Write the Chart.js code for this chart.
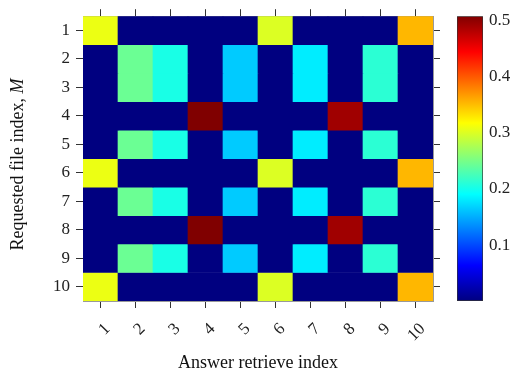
<!DOCTYPE html>
<html>
<head>
<meta charset="utf-8">
<script src="https://cdn.jsdelivr.net/npm/chart.js@4/dist/chart.umd.min.js"></script>
<style>
  html, body { margin: 0; padding: 0; background: #fff; }
  #wrap { position: relative; width: 514px; height: 370px; }
  #heat { position: absolute; left: 0; top: 0; }
  #bar { position: absolute; left: 450px; top: 0; }
</style>
</head>
<body>
<div id="wrap">
  <canvas id="heat" width="450" height="370"></canvas>
  <canvas id="bar" width="64" height="370"></canvas>
</div>
<script>
// ==============================
// DATA
// ==============================
const answerIdx = ["1", "2", "3", "4", "5", "6", "7", "8", "9", "10"];
const fileIdx = [1, 2, 3, 4, 5, 6, 7, 8, 9, 10];

// rows 1, 6, 10
const rowA = [0.308, 0.001, 0.001, 0.001, 0.001, 0.300, 0.001, 0.001, 0.001, 0.353];
// rows 2, 3, 5, 7, 9
const rowB = [0.001, 0.244, 0.203, 0.001, 0.165, 0.001, 0.182, 0.001, 0.212, 0.001];
// rows 4, 8
const rowC = [0.001, 0.001, 0.001, 0.507, 0.001, 0.001, 0.001, 0.491, 0.001, 0.001];

const matrix = [rowA, rowB, rowB, rowC, rowB, rowA, rowB, rowC, rowB, rowA];

const cbarTicks = [0.1, 0.2, 0.3, 0.4, 0.5];

// ==============================
// JET COLORMAP
// ==============================
const jetStops = [
  [0, [0, 0, 0.5]],
  [0.125, [0, 0, 1]],
  [0.375, [0, 1, 1]],
  [0.625, [1, 1, 0]],
  [0.875, [1, 0, 0]],
  [1, [0.5, 0, 0]]
];

function jet(t) {
  t = Math.max(0, Math.min(1, t));
  for (let i = 1; i < jetStops.length; i++) {
    const [t1, c1] = jetStops[i];
    const [t0, c0] = jetStops[i - 1];
    if (t <= t1) {
      const f = (t - t0) / (t1 - t0);
      const c = c0.map((v, k) => Math.round(255 * (v + (c1[k] - v) * f)));
      return `rgb(${c[0]},${c[1]},${c[2]})`;
    }
  }
  return "rgb(128,0,0)";
}

const all = matrix.flat();
const cmin = Math.min(...all);
const cmax = Math.max(...all);
const colorOf = v => jet((v - cmin) / (cmax - cmin));

// ==============================
// SHARED STYLE
// ==============================
const serif = "'Liberation Serif', 'Times New Roman', serif";
const tickFont = { family: serif, size: 17 };
const titleFont = { family: serif, size: 18, lineHeight: 1 };
const frame = { display: true, color: "#999", width: 1 };
const tickGrid = { drawOnChartArea: false, offset: false, tickLength: 7, tickColor: "#333" };
const rowTicks = s => { s.ticks = fileIdx.map(v => ({ value: v })); };

// y title with an italic M (Chart.js titles take one font only)
const yTitlePlugin = {
  id: "yTitle",
  afterDraw(chart) {
    const { ctx, chartArea } = chart;
    const head = "Requested file index, ";
    const tail = "M";
    const cy = (chartArea.top + chartArea.bottom) / 2 + 6;
    ctx.save();
    ctx.translate(18, cy);
    ctx.rotate(-Math.PI / 2);
    ctx.fillStyle = "#111";
    ctx.textBaseline = "middle";
    ctx.font = `18px ${serif}`;
    const w1 = ctx.measureText(head).width;
    ctx.font = `italic 18px ${serif}`;
    const w2 = ctx.measureText(tail).width;
    const x0 = -(w1 + w2) / 2;
    ctx.font = `18px ${serif}`;
    ctx.fillText(head, x0, 0);
    ctx.font = `italic 18px ${serif}`;
    ctx.fillText(tail, x0 + w1, 0);
    ctx.restore();
  }
};

// ==============================
// HEATMAP
// ==============================
const datasets = fileIdx.map((r, i) => ({
  label: "M = " + r,
  data: answerIdx.map(() => [r - 0.5, r + 0.5]),
  backgroundColor: matrix[i].map(colorOf),
  borderWidth: 0,
  grouped: false,
  barPercentage: 1,
  categoryPercentage: 1
}));

new Chart(document.getElementById("heat"), {
  type: "bar",
  data: { labels: answerIdx, datasets: datasets },
  plugins: [yTitlePlugin],
  options: {
    responsive: false,
    animation: false,
    layout: { padding: 0 },
    plugins: { legend: { display: false }, tooltip: { enabled: false } },
    scales: {
      x: {
        position: "bottom",
        offset: true,
        grid: tickGrid,
        border: frame,
        ticks: { font: tickFont, color: "#222", minRotation: 45, maxRotation: 45, padding: 11, labelOffset: 7 },
        title: { display: true, text: "Answer retrieve index", font: titleFont, color: "#111", padding: { top: 0, bottom: -2 } },
        afterFit: s => { s.height = 69; }
      },
      x2: {
        type: "category",
        position: "top",
        offset: true,
        grid: tickGrid,
        border: frame,
        ticks: { display: false },
        afterFit: s => { s.height = 11; }
      },
      y: {
        type: "linear",
        position: "left",
        min: 0.5,
        max: 10.5,
        reverse: true,
        grid: tickGrid,
        border: frame,
        afterBuildTicks: rowTicks,
        ticks: { font: tickFont, color: "#222", padding: 6 },
        afterFit: s => { s.width = 83; }
      },
      y2: {
        type: "linear",
        position: "right",
        min: 0.5,
        max: 10.5,
        reverse: true,
        grid: tickGrid,
        border: frame,
        afterBuildTicks: rowTicks,
        ticks: { display: false },
        afterFit: s => { s.width = 17; }
      }
    }
  }
});

// ==============================
// COLORBAR
// ==============================
function jetGradient(ctx) {
  const area = ctx.chart.chartArea;
  if (!area) return jet(0);
  const g = ctx.chart.ctx.createLinearGradient(0, area.bottom, 0, area.top);
  jetStops.forEach(([t, c]) => {
    g.addColorStop(t, `rgb(${c.map(v => Math.round(v * 255)).join(",")})`);
  });
  return g;
}

new Chart(document.getElementById("bar"), {
  type: "bar",
  data: {
    labels: ["scale"],
    datasets: [{
      data: [[cmin, cmax]],
      backgroundColor: jetGradient,
      borderColor: "#333",
      borderWidth: 1,
      borderSkipped: false,
      barPercentage: 1,
      categoryPercentage: 1
    }]
  },
  options: {
    responsive: false,
    animation: false,
    layout: { padding: { left: 7, top: 11, bottom: 69, right: 0 } },
    plugins: { legend: { display: false }, tooltip: { enabled: false } },
    scales: {
      x: { display: false },
      y: {
        position: "right",
        min: cmin,
        max: cmax,
        z: 1,
        afterBuildTicks: s => { s.ticks = cbarTicks.map(v => ({ value: v })); },
        grid: { drawOnChartArea: true, drawTicks: false, color: "#8a8a8a", lineWidth: 1 },
        border: { display: false, dash: [5, 16] },
        ticks: { font: tickFont, color: "#222", padding: 6 },
        afterFit: s => { s.width = 31; }
      }
    }
  }
});
</script>
</body>
</html>
